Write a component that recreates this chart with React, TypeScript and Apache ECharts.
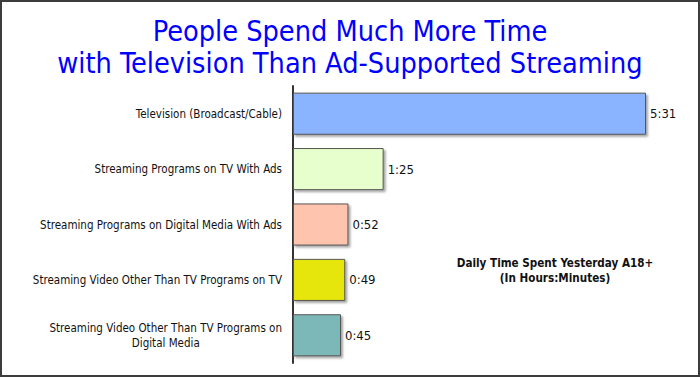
import React, { useEffect, useRef } from "react";
import * as echarts from "echarts";

const categories = [
  "Television (Broadcast/Cable)",
  "Streaming Programs on TV With Ads",
  "Streaming Programs on Digital Media With Ads",
  "Streaming Video Other Than TV Programs on TV",
  "Streaming Video Other Than TV Programs on\nDigital Media",
];
// minutes per day
const minutes = [331, 85, 52, 49, 45];
const barColors = ["#8AB4FF", "#E6FFCC", "#FFC4AE", "#E6E60A", "#7DB8B8"];
const titleLines = [
  "People Spend Much More Time",
  "with Television Than Ad-Supported Streaming",
];
const noteLines = ["Daily Time Spent Yesterday A18+", "(In Hours:Minutes)"];

const FONT = "'DejaVu Sans Condensed', 'Liberation Sans', sans-serif";

function fmt(m: number): string {
  const h = Math.floor(m / 60);
  const mm = m % 60;
  return `${h}:${mm < 10 ? "0" + mm : mm}`;
}

export default function App() {
  const ref = useRef<HTMLDivElement>(null);
  useEffect(() => {
    const chart = echarts.init(ref.current!, null, { renderer: "svg" });
    chart.setOption({
      animation: false,
      backgroundColor: "#ffffff",
      title: {
        text: titleLines.join("\n"),
        left: "center",
        top: 15,
        padding: 0,
        textStyle: {
          color: "#0000FF",
          fontFamily: FONT,
          fontWeight: "normal",
          fontSize: 28.6,
          lineHeight: 32,
        },
      },
      graphic: [
        {
          type: "text",
          left: 455,
          top: 255,
          style: {
            text: noteLines.join("\n"),
            fontFamily: FONT,
            fontWeight: "bold",
            fontSize: 11.6,
            lineHeight: 15,
            textAlign: "center",
            fill: "#111",
            width: 200,
          },
        },
      ],
      grid: { left: 293, right: 54, top: 86, bottom: 14, containLabel: false },
      xAxis: {
        type: "value",
        min: 0,
        max: 331,
        show: false,
      },
      yAxis: {
        type: "category",
        data: categories,
        inverse: true,
        axisLine: { show: true, lineStyle: { color: "#333", width: 2 } },
        axisTick: { show: false },
        axisLabel: {
          margin: 11,
          formatter: (v: string) =>
            v
              .split("\n")
              .map((l) => `{c|${l}}`)
              .join("\n"),
          rich: {
            c: {
              align: "center",
              fontFamily: FONT,
              fontSize: 11.5,
              color: "#111",
              lineHeight: 15,
            },
          },
        },
      },
      series: [
        {
          type: "bar",
          barCategoryGap: "24%",
          data: minutes.map((m, i) => ({
            value: m,
            itemStyle: { color: barColors[i] },
          })),
          itemStyle: {
            borderColor: "#555",
            borderWidth: 1,
            shadowColor: "rgba(0,0,0,0.35)",
            shadowBlur: 2,
            shadowOffsetX: 2,
            shadowOffsetY: 2,
          },
          label: {
            show: true,
            position: "right",
            distance: 4,
            formatter: (p: any) => fmt(p.value),
            fontFamily: FONT,
            fontSize: 13,
            color: "#111",
          },
        },
      ],
    });
    return () => chart.dispose();
  }, []);
  return (
    <div
      style={{
        position: "absolute",
        left: 0,
        top: 0,
        width: 700,
        height: 377,
        boxSizing: "border-box",
        border: "2px solid #3c3c3c",
        background: "#fff",
        overflow: "hidden",
      }}
    >
      <div
        ref={ref}
        style={{ position: "absolute", left: -2, top: -2, width: 700, height: 377 }}
      />
    </div>
  );
}
